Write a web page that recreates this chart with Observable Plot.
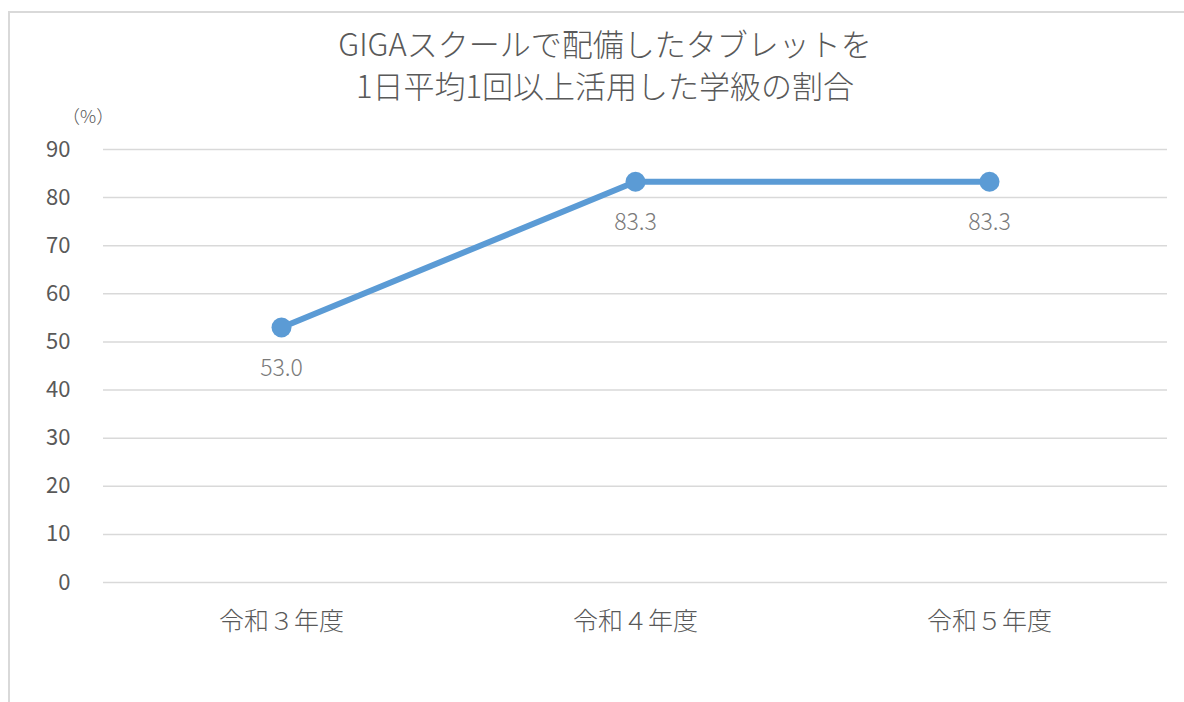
<!DOCTYPE html>
<html>
<head>
<meta charset="utf-8">
<script src="https://cdn.jsdelivr.net/npm/d3@7"></script>
<script src="https://cdn.jsdelivr.net/npm/@observablehq/plot@0.6"></script>
<style>
  html, body { margin: 0; padding: 0; background: #fff; overflow: hidden; }
  body { width: 1184px; height: 702px; position: relative; font-family: "Noto Sans CJK JP", "Noto Sans", sans-serif; }
  #frame { position: absolute; left: 8px; top: 11px; width: 1300px; height: 800px; border: 2px solid #d9d9d9; box-sizing: border-box; }
  #title { position: absolute; left: 0; width: 1210px; top: 22px; text-align: center; font-size: 31px; line-height: 42px; color: #595959; font-weight: 300; }
  #unit { position: absolute; left: 62px; top: 102px; font-size: 18px; color: #595959; font-weight: 300; }
  #chart { position: absolute; left: 0; top: 0; }
</style>
</head>
<body>
<div id="frame"></div>
<div id="chart"></div>
<div id="title">GIGAスクールで配備したタブレットを<br>1日平均1回以上活用した学級の割合</div>
<div id="unit">（%）</div>
<script>
const categories = ["令和３年度", "令和４年度", "令和５年度"];
const values = [53.0, 83.3, 83.3];
const yTicks = [0, 10, 20, 30, 40, 50, 60, 70, 80, 90];

const data = categories.map((c, i) => ({ cat: c, v: values[i] }));

const chart = Plot.plot({
  width: 1184,
  height: 702,
  marginLeft: 103,
  marginRight: 17,
  marginTop: 149,
  marginBottom: 120,
  style: { fontFamily: "'Noto Sans CJK JP', 'Noto Sans', sans-serif", background: "transparent", overflow: "visible" },
  x: { type: "point", domain: categories, padding: 0.5 },
  y: { domain: [0, 90] },
  marks: [
    Plot.ruleY(yTicks, { y: d => d, stroke: "#d9d9d9", strokeWidth: 1.5 }),
    Plot.axisY({ ticks: yTicks, tickSize: 0, tickPadding: 33, fontSize: 22, fill: "#595959", label: null }),
    Plot.axisX({ tickSize: 0, tickPadding: 30, fontSize: 25, fontWeight: 300, fill: "#595959", label: null }),
    Plot.line(data, { x: "cat", y: "v", stroke: "#5b9bd5", strokeWidth: 6, strokeLinecap: "round", strokeLinejoin: "round" }),
    Plot.dot(data, { x: "cat", y: "v", r: 10, fill: "#5b9bd5", stroke: "none" }),
    Plot.text(data, { x: "cat", y: "v", text: d => d.v.toFixed(1), dy: 41, fontSize: 23, fontWeight: 300, fill: "#7a7a7a" })
  ]
});
document.getElementById("chart").appendChild(chart);
</script>
</body>
</html>
